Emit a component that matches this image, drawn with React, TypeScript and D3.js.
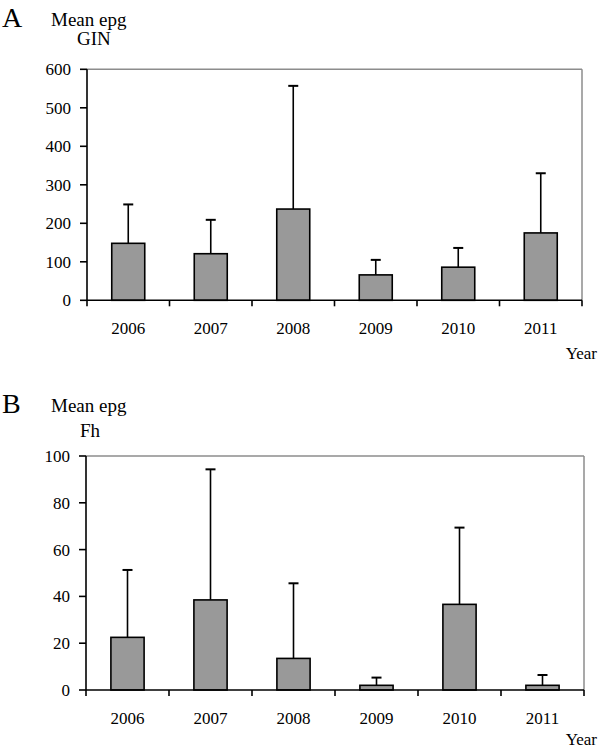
import React from "react";
import * as d3 from "d3";

const years = ["2006", "2007", "2008", "2009", "2010", "2011"];
const ginMean = [148, 121, 237, 66, 86, 175];
const ginSD = [101, 88, 320, 39, 50, 155];
const fhMean = [22.5, 38.5, 13.5, 2, 36.6, 2];
const fhSD = [28.8, 55.8, 32.1, 3.3, 32.8, 4.4];
const ginTicks = [0, 100, 200, 300, 400, 500, 600];
const fhTicks = [0, 20, 40, 60, 80, 100];

const FONT = "'Liberation Serif', 'Times New Roman', serif";

type PanelProps = {
  letter: string;
  sub: string;
  means: number[];
  sds: number[];
  ticks: number[];
  yMax: number;
  x0: number;
  x1: number;
  yTop: number;
  yBottom: number;
  letterY: number;
  titleY: number;
  subY: number;
  subX: number;
  yearY: number;
};

function Panel(p: PanelProps) {
  const x = d3
    .scaleBand<string>()
    .domain(years)
    .range([p.x0, p.x1])
    .paddingInner(0.6)
    .paddingOuter(0.3);
  const y = d3.scaleLinear().domain([0, p.yMax]).range([p.yBottom, p.yTop]);
  const step = x.step();
  const bw = x.bandwidth();
  return (
    <g>
      <text x={2} y={p.letterY} fontSize={28} fontFamily={FONT}>{p.letter}</text>
      <text x={51} y={p.titleY} fontSize={19} fontFamily={FONT}>Mean epg</text>
      <text x={p.subX} y={p.subY} fontSize={19} fontFamily={FONT}>{p.sub}</text>
      {/* frame top/right */}
      <line x1={p.x0} x2={p.x1} y1={p.yTop} y2={p.yTop} stroke="#8c8c8c" strokeWidth={1.5} />
      <line x1={p.x1} x2={p.x1} y1={p.yTop} y2={p.yBottom} stroke="#8c8c8c" strokeWidth={1.5} />
      {/* bars */}
      {years.map((yr, i) => {
        const cx = (x(yr) as number) + bw / 2;
        const top = y(p.means[i]);
        const errTop = y(p.means[i] + p.sds[i]);
        return (
          <g key={yr}>
            <line x1={cx} x2={cx} y1={top} y2={errTop} stroke="#000" strokeWidth={1.6} />
            <line x1={cx - 5} x2={cx + 5} y1={errTop} y2={errTop} stroke="#000" strokeWidth={2} />
            <rect
              x={x(yr) as number}
              y={top}
              width={bw}
              height={p.yBottom - top}
              fill="#999999"
              stroke="#000"
              strokeWidth={1.6}
            />
          </g>
        );
      })}
      {/* y axis */}
      <line x1={p.x0} x2={p.x0} y1={p.yTop} y2={p.yBottom} stroke="#000" strokeWidth={1.6} />
      {p.ticks.map((t) => (
        <g key={t}>
          <line x1={p.x0 - 7} x2={p.x0} y1={y(t)} y2={y(t)} stroke="#000" strokeWidth={1.6} />
          <text x={p.x0 - 16} y={y(t) + 6} textAnchor="end" fontSize={17} fontFamily={FONT}>{t}</text>
        </g>
      ))}
      {/* x axis */}
      <line x1={p.x0} x2={p.x1} y1={p.yBottom} y2={p.yBottom} stroke="#000" strokeWidth={1.6} />
      {d3.range(years.length + 1).map((i) => (
        <line
          key={i}
          x1={p.x0 + i * step}
          x2={p.x0 + i * step}
          y1={p.yBottom}
          y2={p.yBottom + 6}
          stroke="#000"
          strokeWidth={1.6}
        />
      ))}
      {years.map((yr) => (
        <text
          key={yr}
          x={(x(yr) as number) + bw / 2}
          y={p.yBottom + 34}
          textAnchor="middle"
          fontSize={17}
          fontFamily={FONT}
        >
          {yr}
        </text>
      ))}
      <text x={597} y={p.yearY} textAnchor="end" fontSize={17} fontFamily={FONT}>Year</text>
    </g>
  );
}

export default function App() {
  return (
    <svg
      width={600}
      height={752}
      style={{ position: "absolute", left: 0, top: 0, background: "#fff" }}
    >
      <rect width={600} height={752} fill="#fff" />
      <Panel
        letter="A"
        sub="GIN"
        means={ginMean}
        sds={ginSD}
        ticks={ginTicks}
        yMax={600}
        x0={87}
        x1={582}
        yTop={69.3}
        yBottom={300.3}
        letterY={27}
        titleY={26}
        subY={45}
        subX={77}
        yearY={359}
      />
      <Panel
        letter="B"
        sub="Fh"
        means={fhMean}
        sds={fhSD}
        ticks={fhTicks}
        yMax={100}
        x0={86}
        x1={584}
        yTop={456}
        yBottom={690}
        letterY={413}
        titleY={412}
        subY={437}
        subX={80}
        yearY={745}
      />
    </svg>
  );
}
